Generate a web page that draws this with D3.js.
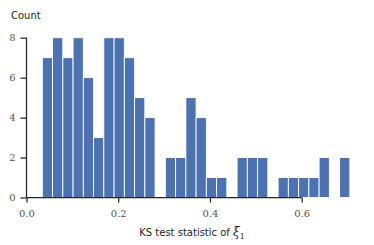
<!DOCTYPE html>
<html><head><meta charset="utf-8">
<script src="https://cdn.jsdelivr.net/npm/d3@7"></script>
<style>body{margin:0;background:#fff}svg{display:block}</style>
</head><body>
<script>
// Histogram: 30 bins of KS statistic, counts
const binStart = 0.0345;
const binWidth = 0.02235;
const counts = [7,8,7,8,6,3,8,8,7,5,4,0,2,2,5,4,1,1,0,2,2,2,0,1,1,1,1,2,0,2];
const xTicks = [0.0, 0.2, 0.4, 0.6];
const yTicks = [0, 2, 4, 6, 8];
const xLabel = "KS test statistic of ";
const yLabel = "Count";

const W = 374, H = 245;
const svg = d3.select("body").append("svg").attr("width", W).attr("height", H);
const x = d3.scaleLinear().domain([0, 0.6]).range([26.5, 301.7]);
const y = d3.scaleLinear().domain([0, 8]).range([197.5, 37.7]);

const bins = counts.map((c, i) => ({x0: binStart + i * binWidth, x1: binStart + (i + 1) * binWidth, c}));
svg.append("g").selectAll("rect").data(bins.filter(d => d.c > 0)).join("rect")
  .attr("x", d => x(d.x0)).attr("width", d => x(d.x1) - x(d.x0))
  .attr("y", d => y(d.c)).attr("height", d => y(0) - y(d.c))
  .attr("fill", "#4C72B0").attr("stroke", "#fff").attr("stroke-width", 0.9);

const tickFont = "'DejaVu Serif', 'Liberation Serif', serif";
const gx = svg.append("g").attr("transform", `translate(0,${y(0)})`)
  .call(d3.axisBottom(x).tickValues(xTicks).tickFormat(d3.format(".1f")).tickSize(5).tickPadding(7));
const gy = svg.append("g").attr("transform", `translate(${x(0)},0)`)
  .call(d3.axisLeft(y).tickValues(yTicks).tickFormat(d3.format("d")).tickSize(6).tickPadding(5));
[gx, gy].forEach(g => {
  g.attr("font-family", null);
  g.selectAll(".domain").attr("stroke", "#262626").attr("stroke-width", 1.25);
  g.selectAll(".tick line").attr("stroke", "#262626").attr("stroke-width", 1.25);
  g.selectAll("text").style("font-family", tickFont).style("font-size", "10px").attr("fill", "#555");
});
gx.select(".domain").attr("d", `M${x(0)},0H${x(0.6)}`);
gy.select(".domain").attr("d", `M0,${y(0)}V${y(8)}`);

svg.append("text").attr("x", 11).attr("y", 19).text(yLabel)
  .style("font-family", "'DejaVu Sans', sans-serif").style("font-size", "10px").attr("fill", "#262626");
const xl = svg.append("text").attr("x", 192).attr("y", 236).attr("text-anchor", "middle")
  .style("font-family", "'DejaVu Sans', sans-serif").style("font-size", "10px").attr("fill", "#262626");
xl.append("tspan").text(xLabel);
xl.append("tspan").text("ξ").style("font-family", tickFont).style("font-style", "italic").style("font-size", "12px");
xl.append("tspan").text("1").style("font-family", tickFont).style("font-size", "8px").attr("dy", 3);
</script>
</body></html>
